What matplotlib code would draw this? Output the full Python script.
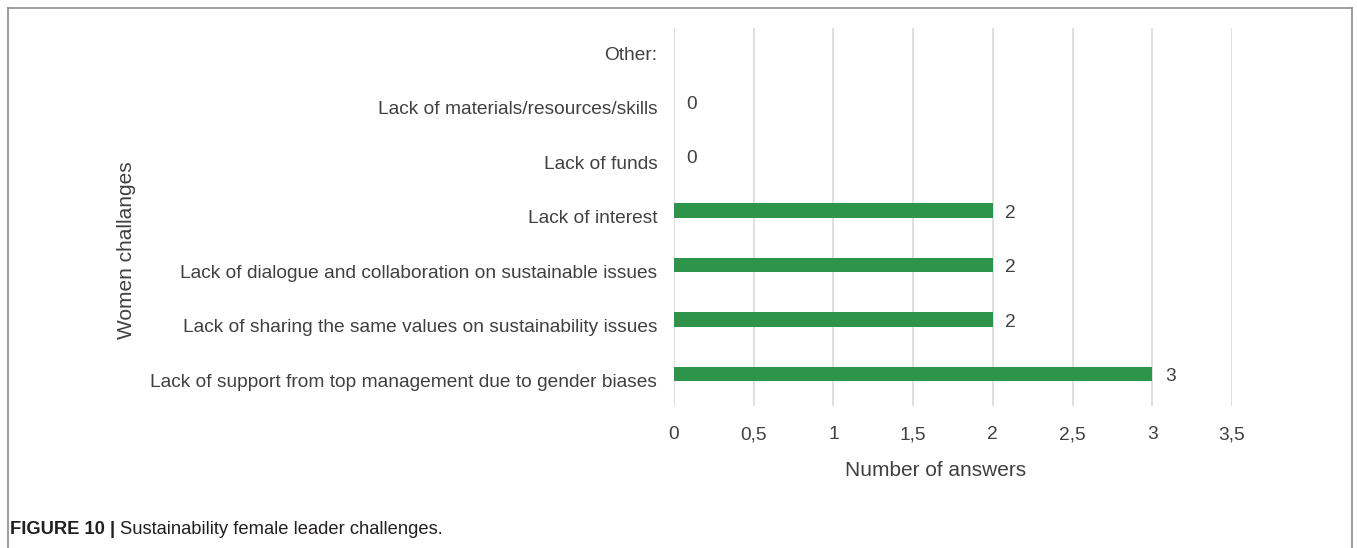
import numpy as np
import matplotlib.pyplot as plt
import matplotlib.transforms as mtransforms
from matplotlib.lines import Line2D

categories = [
    "Lack of support from top management due to gender biases",
    "Lack of sharing the same values on sustainability issues",
    "Lack of dialogue and collaboration on sustainable issues",
    "Lack of interest",
    "Lack of funds",
    "Lack of materials/resources/skills",
    "Other:",
]
answers = [3, 2, 2, 2, 0, 0, None]
xticks = [0, 0.5, 1, 1.5, 2, 2.5, 3, 3.5]
xtick_labels = ["0", "0,5", "1", "1,5", "2", "2,5", "3", "3,5"]

plt.rcParams["font.family"] = ["Liberation Sans", "DejaVu Sans"]
text_grey = "#404040"
bar_green = "#2e9449"

fig = plt.figure(figsize=(13.57, 5.48), dpi=100)
ax = fig.add_axes([674 / 1357, 1 - 406 / 548, 558 / 1357, 378 / 548])

y = np.arange(len(categories))
vals = [v if v is not None else 0 for v in answers]
ax.barh(y, vals, height=0.265, color=bar_green, zorder=3)

for yi, v in zip(y, answers):
    if v is None:
        continue
    ax.annotate(str(v), (v, yi), xytext=(9, -2), textcoords="offset points",
                ha="left", va="center", fontsize=13.8, color=text_grey)

ax.set_xlim(0, 3.5)
ax.set_ylim(-0.587, 6.35)
ax.set_xticks(xticks)
ax.set_xticklabels(xtick_labels)
ax.set_yticks(y)
ax.set_yticklabels(categories)
ax.tick_params(axis="both", length=0, labelsize=13.8, colors=text_grey)
ax.tick_params(axis="x", pad=24)
ax.tick_params(axis="y", pad=12)
# keep the comma labels on the same baseline as the others
for lbl in ax.get_xticklabels():
    lbl.set_verticalalignment("baseline")
# category names sit a little below the bar centres
shift = mtransforms.ScaledTranslation(0, -0.06, fig.dpi_scale_trans)
for lbl in ax.get_yticklabels():
    lbl.set_transform(lbl.get_transform() + shift)
ax.grid(axis="x", color="#d9d9d9", linewidth=1.2, zorder=0)
for s in ax.spines.values():
    s.set_visible(False)

fig.text(936 / 1357, 1 - 470 / 548, "Number of answers",
         ha="center", va="center", fontsize=15, color=text_grey)
fig.text(127 / 1357, 1 - 250 / 548, "Women challanges", rotation=90,
         ha="center", va="center", fontsize=15, color=text_grey)

# frame around the figure panel (open at the bottom)
frame = dict(color="#8c8c8c", linewidth=1.2, transform=fig.transFigure)
x0, x1, ytop = 8 / 1357, 1352 / 1357, 1 - 8 / 548
fig.add_artist(Line2D([x0, x0], [0, ytop], **frame))
fig.add_artist(Line2D([x0, x1], [ytop, ytop], **frame))
fig.add_artist(Line2D([x1, x1], [0, ytop], **frame))

cap = fig.text(10 / 1357, 1 - 529 / 548, "FIGURE 10 | ", fontsize=13.2,
               fontweight="bold", color="#231f20", va="center")
fig.canvas.draw()
bb = cap.get_window_extent()
fig.text(bb.x1 / fig.bbox.width, 1 - 529 / 548,
         "Sustainability female leader challenges.", fontsize=13.2,
         color="#231f20", va="center")

fig.savefig("out.png", dpi=100)
